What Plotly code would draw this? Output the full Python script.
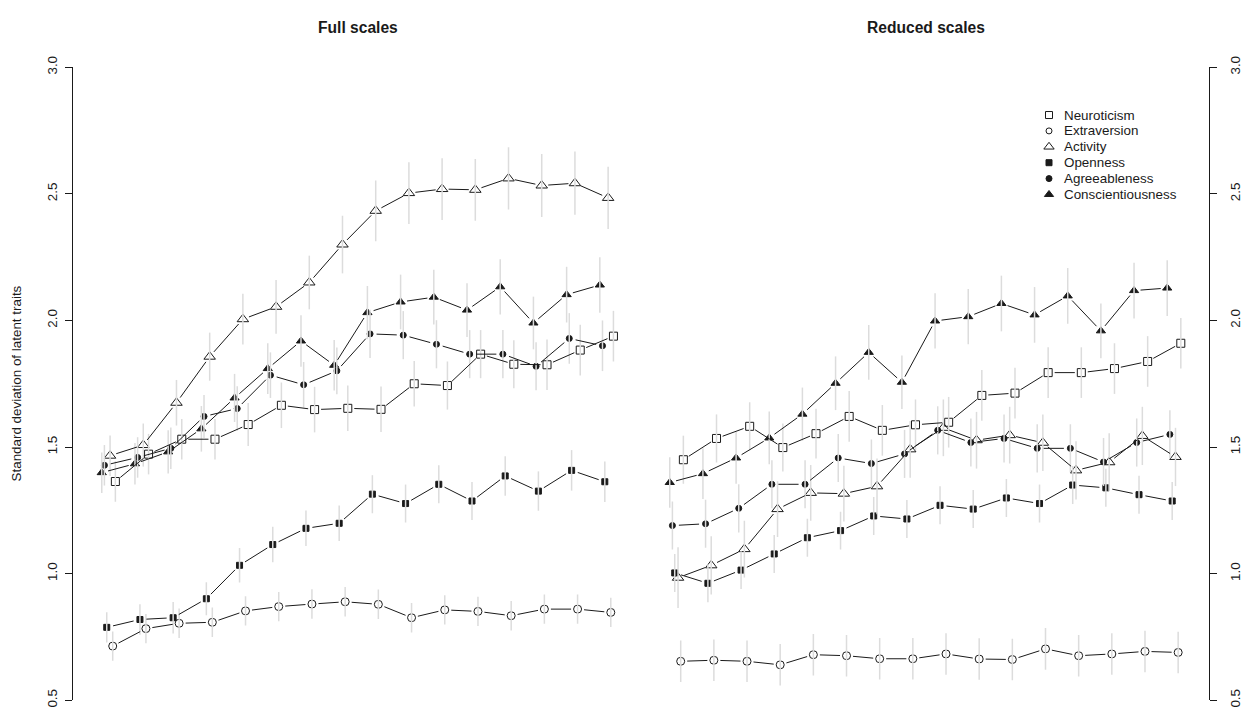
import math
import plotly.graph_objects as go

# ---- data -----------------------------------------------------------------
occasions = list(range(1, 17))

trait_names = ["Neuroticism", "Extraversion", "Activity",
               "Openness", "Agreeableness", "Conscientiousness"]

# Full scales: standard deviation of latent traits
full_neuroticism = [1.364, 1.472, 1.531, 1.531, 1.589, 1.665, 1.648, 1.653,
                    1.649, 1.750, 1.743, 1.867, 1.827, 1.825, 1.883, 1.938]
full_extraversion = [0.714, 0.783, 0.804, 0.808, 0.853, 0.870, 0.880, 0.889,
                     0.879, 0.826, 0.857, 0.851, 0.834, 0.860, 0.860, 0.847]
full_activity = [1.466, 1.508, 1.675, 1.857, 2.005, 2.054, 2.150, 2.300,
                 2.433, 2.503, 2.519, 2.516, 2.561, 2.533, 2.542, 2.484]
full_openness = [0.788, 0.819, 0.826, 0.901, 1.033, 1.115, 1.179, 1.199,
                 1.314, 1.277, 1.353, 1.287, 1.386, 1.326, 1.408, 1.363]
full_agreeableness = [1.428, 1.459, 1.495, 1.621, 1.652, 1.784, 1.746, 1.801,
                      1.947, 1.942, 1.906, 1.867, 1.867, 1.819, 1.929, 1.900]
full_conscientiousness = [1.399, 1.434, 1.481, 1.572, 1.694, 1.810, 1.919, 1.823,
                          2.031, 2.073, 2.092, 2.041, 2.133, 1.990, 2.102, 2.140]

# Full scales: half-width of the uncertainty bars
full_neuroticism_err = [0.080, 0.080, 0.080, 0.080, 0.085, 0.090, 0.090, 0.090,
                        0.090, 0.090, 0.095, 0.095, 0.095, 0.100, 0.100, 0.100]
full_extraversion_err = [0.058, 0.058, 0.058, 0.058, 0.058, 0.058, 0.058, 0.058,
                         0.058, 0.058, 0.058, 0.058, 0.058, 0.058, 0.058, 0.058]
full_activity_err = [0.080, 0.085, 0.090, 0.095, 0.100, 0.106, 0.106, 0.114,
                     0.120, 0.122, 0.122, 0.122, 0.123, 0.124, 0.125, 0.123]
full_openness_err = [0.060, 0.060, 0.062, 0.065, 0.068, 0.070, 0.070, 0.070,
                     0.075, 0.075, 0.075, 0.075, 0.078, 0.078, 0.080, 0.080]
full_agreeableness_err = [0.080, 0.080, 0.082, 0.085, 0.088, 0.090, 0.090, 0.092,
                          0.095, 0.095, 0.095, 0.095, 0.095, 0.095, 0.100, 0.100]
full_conscientiousness_err = [0.080, 0.082, 0.085, 0.090, 0.095, 0.100, 0.102, 0.100,
                              0.105, 0.108, 0.108, 0.106, 0.109, 0.104, 0.110, 0.110]

# Reduced scales: standard deviation of latent traits
red_neuroticism = [1.450, 1.534, 1.582, 1.498, 1.553, 1.621, 1.566, 1.588,
                   1.598, 1.704, 1.713, 1.794, 1.794, 1.810, 1.838, 1.910]
red_extraversion = [0.654, 0.658, 0.654, 0.640, 0.680, 0.676, 0.664, 0.664,
                    0.683, 0.663, 0.661, 0.703, 0.676, 0.683, 0.693, 0.689]
red_activity = [0.984, 1.033, 1.097, 1.255, 1.319, 1.316, 1.345, 1.491,
                1.576, 1.527, 1.547, 1.517, 1.408, 1.440, 1.544, 1.461]
red_openness = [1.003, 0.962, 1.014, 1.078, 1.142, 1.170, 1.228, 1.216,
                1.270, 1.255, 1.299, 1.277, 1.350, 1.339, 1.312, 1.287]
red_agreeableness = [1.190, 1.197, 1.258, 1.353, 1.353, 1.457, 1.435, 1.473,
                     1.566, 1.518, 1.534, 1.495, 1.495, 1.441, 1.518, 1.550]
red_conscientiousness = [1.360, 1.395, 1.457, 1.536, 1.630, 1.752, 1.874, 1.756,
                         1.998, 2.015, 2.067, 2.022, 2.097, 1.959, 2.118, 2.128]

# Reduced scales: half-width of the uncertainty bars
red_neuroticism_err = [0.095, 0.095, 0.095, 0.095, 0.098, 0.100, 0.100, 0.100,
                       0.100, 0.100, 0.100, 0.100, 0.100, 0.100, 0.100, 0.100]
red_extraversion_err = [0.082, 0.082, 0.082, 0.082, 0.082, 0.082, 0.082, 0.082,
                        0.082, 0.082, 0.082, 0.082, 0.082, 0.082, 0.082, 0.082]
red_activity_err = [0.120, 0.115, 0.112, 0.110, 0.110, 0.110, 0.110, 0.112,
                    0.112, 0.112, 0.112, 0.112, 0.115, 0.115, 0.115, 0.115]
red_openness_err = [0.075, 0.075, 0.075, 0.075, 0.075, 0.075, 0.075, 0.075,
                    0.075, 0.075, 0.075, 0.075, 0.075, 0.075, 0.075, 0.075]
red_agreeableness_err = [0.095, 0.095, 0.095, 0.095, 0.095, 0.095, 0.095, 0.095,
                         0.095, 0.095, 0.095, 0.095, 0.095, 0.095, 0.095, 0.095]
red_conscientiousness_err = [0.100, 0.100, 0.102, 0.104, 0.105, 0.106, 0.108, 0.106,
                             0.109, 0.109, 0.110, 0.110, 0.110, 0.108, 0.110, 0.110]

y_ticks = [0.5, 1.0, 1.5, 2.0, 2.5, 3.0]
y_tick_labels = ["0.5", "1.0", "1.5", "2.0", "2.5", "3.0"]

# ---- styling --------------------------------------------------------------
W, H = 1250, 718
FONT = "Liberation Sans, Arial, Helvetica, sans-serif"
INK = "#1a1a1a"
BAR = "#dcdcdc"

# horizontal dodge of each trait around an occasion, plus marker style
dodge = {"Neuroticism": 0.08, "Extraversion": 0.0, "Activity": -0.08,
         "Openness": -0.18, "Agreeableness": -0.25, "Conscientiousness": -0.33}
symbols = {"Neuroticism": ("square-open", 8), "Extraversion": ("circle-open", 8),
           "Activity": ("triangle-up-open", 10), "Openness": ("square", 6),
           "Agreeableness": ("circle", 6), "Conscientiousness": ("triangle-up", 8)}
legend_sizes = {"Neuroticism": 7, "Extraversion": 6, "Activity": 9,
                "Openness": 6, "Agreeableness": 6, "Conscientiousness": 8}

# panel geometry in pixels
px_left, px_split, px_right = 73.0, 642.0, 1209.0
px_top, px_bottom = 57.7, 707.0
y_range = [0.5, 3.0]
x_range_full = [-0.196, 16.94]
x_range_red = [-0.167, 16.93]

# key placement (pixels): symbol column, text column, first row, row step
key_sym_x, key_text_x, key_top, key_step = 1049.0, 1061.7, 106.7, 16.3

panels = [
    dict(xaxis="x", yaxis="y", xr=x_range_full, px=(px_left, px_split),
         data=[full_neuroticism, full_extraversion, full_activity,
               full_openness, full_agreeableness, full_conscientiousness],
         err=[full_neuroticism_err, full_extraversion_err, full_activity_err,
              full_openness_err, full_agreeableness_err, full_conscientiousness_err]),
    dict(xaxis="x2", yaxis="y2", xr=x_range_red, px=(px_split, px_right),
         data=[red_neuroticism, red_extraversion, red_activity,
               red_openness, red_agreeableness, red_conscientiousness],
         err=[red_neuroticism_err, red_extraversion_err, red_activity_err,
              red_openness_err, red_agreeableness_err, red_conscientiousness_err]),
]

GAP = 6.5  # px left open between a point and its connecting segment


def gapped_path(xs, ys, sx, sy):
    """Connecting segments that stop short of each point (R type='b')."""
    lx, ly = [], []
    for i in range(len(xs) - 1):
        dx = (xs[i + 1] - xs[i]) * sx
        dy = (ys[i + 1] - ys[i]) * sy
        length = math.hypot(dx, dy)
        if length <= 2 * GAP:
            continue
        t = GAP / length
        lx += [xs[i] + t * (xs[i + 1] - xs[i]), xs[i + 1] - t * (xs[i + 1] - xs[i]), None]
        ly += [ys[i] + t * (ys[i + 1] - ys[i]), ys[i + 1] - t * (ys[i + 1] - ys[i]), None]
    return lx, ly


fig = go.Figure()

for p in panels:
    sx = (p["px"][1] - p["px"][0]) / (p["xr"][1] - p["xr"][0])
    sy = (px_bottom - px_top) / (y_range[1] - y_range[0])
    marker_traces, bar_traces, line_traces = [], [], []
    for name, vals, errs in zip(trait_names, p["data"], p["err"]):
        xs = [o + dodge[name] for o in occasions]
        sym, size = symbols[name]
        marker_traces.append(go.Scatter(
            x=xs, y=vals, mode="markers", xaxis=p["xaxis"], yaxis=p["yaxis"],
            marker=dict(symbol=sym, size=size, color=INK, line=dict(color=INK, width=1)),
            showlegend=False, hoverinfo="skip"))
        bx, by = [], []
        for x, v, e in zip(xs, vals, errs):
            bx += [x, x, None]
            by += [v - e, v + e, None]
        bar_traces.append(go.Scatter(
            x=bx, y=by, mode="lines", xaxis=p["xaxis"], yaxis=p["yaxis"],
            line=dict(color=BAR, width=1.5), showlegend=False, hoverinfo="skip"))
        lx, ly = gapped_path(xs, vals, sx, sy)
        line_traces.append(go.Scatter(
            x=lx, y=ly, mode="lines", xaxis=p["xaxis"], yaxis=p["yaxis"],
            line=dict(color=INK, width=1), showlegend=False, hoverinfo="skip"))
    for t in marker_traces + bar_traces + line_traces:
        fig.add_trace(t)

# key: symbols on a pixel-unit overlay axis, labels as annotations
key_rows = [key_top + k * key_step for k in range(len(trait_names))]
for name, row in zip(trait_names, key_rows):
    sym, _ = symbols[name]
    fig.add_trace(go.Scatter(
        x=[key_sym_x], y=[row], mode="markers", xaxis="x3", yaxis="y3",
        marker=dict(symbol=sym, size=legend_sizes[name], color=INK,
                    line=dict(color=INK, width=1)),
        showlegend=False, hoverinfo="skip"))

key_labels = [dict(text=name, x=key_text_x / W, y=1 - row / H, xref="paper", yref="paper",
                   showarrow=False, xanchor="left", yanchor="middle",
                   font=dict(family=FONT, size=13.4, color=INK))
              for name, row in zip(trait_names, key_rows)]

y_dom = [1 - px_bottom / H, 1 - px_top / H]
axis_common = dict(range=y_range, domain=y_dom, showgrid=False, zeroline=False,
                   showline=True, linecolor=INK, linewidth=1, ticks="outside",
                   ticklen=7, tickcolor=INK, tickvals=y_ticks, ticktext=y_tick_labels,
                   tickangle=-90, tickfont=dict(family=FONT, size=13.4, color=INK))

fig.update_layout(
    width=W, height=H, margin=dict(l=0, r=0, t=0, b=0),
    paper_bgcolor="white", plot_bgcolor="rgba(0,0,0,0)",
    font=dict(family=FONT, color=INK),
    showlegend=False,
    xaxis=dict(domain=[px_left / W, px_split / W], range=x_range_full, visible=False),
    xaxis2=dict(domain=[px_split / W, px_right / W], range=x_range_red, visible=False),
    xaxis3=dict(domain=[0, 1], range=[0, W], visible=False, fixedrange=True),
    yaxis=dict(anchor="x", side="left", ticklabelstandoff=3, **axis_common),
    yaxis2=dict(anchor="x2", side="right", ticklabelstandoff=7, **axis_common),
    yaxis3=dict(domain=[0, 1], range=[H, 0], anchor="x3", visible=False, fixedrange=True),
    annotations=[
        dict(text="<b>Full scales</b>", x=357.7 / W, y=1 - 17.3 / H, xref="paper",
             yref="paper", showarrow=False, xanchor="center", yanchor="middle",
             font=dict(family=FONT, size=15.6, color=INK)),
        dict(text="<b>Reduced scales</b>", x=925.8 / W, y=1 - 17.3 / H, xref="paper",
             yref="paper", showarrow=False, xanchor="center", yanchor="middle",
             font=dict(family=FONT, size=15.6, color=INK)),
        dict(text="Standard deviation of latent traits", x=16.7 / W,
             y=1 - (px_top + px_bottom) / 2 / H, xref="paper", yref="paper",
             showarrow=False, textangle=-90, xanchor="center", yanchor="middle",
             font=dict(family=FONT, size=13.4, color=INK)),
    ] + key_labels,
)

fig.write_html("out.html")
